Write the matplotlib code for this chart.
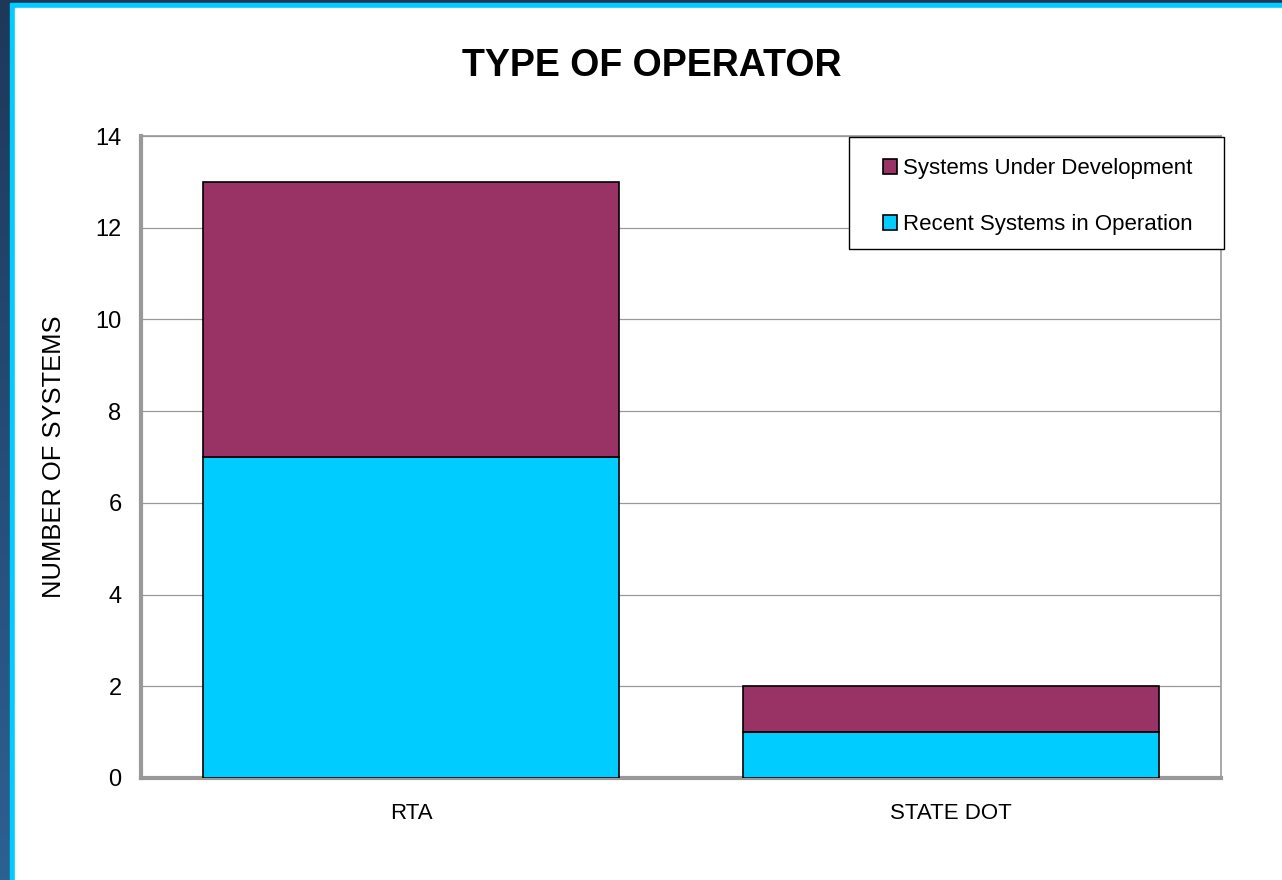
import numpy as np
import matplotlib
matplotlib.use('Agg')
import matplotlib.pyplot as plt
from matplotlib.patches import Rectangle

plt.rcParams['font.family'] = ['Liberation Sans', 'DejaVu Sans']

# Chart data
categories = ["RTA", "STATE DOT"]
recent_in_operation = [7, 1]
under_development = [6, 1]
y_ticks = [0, 2, 4, 6, 8, 10, 12, 14]

W, H = 1282, 880
fig = plt.figure(figsize=(W / 100, H / 100), dpi=100)

# Slide style background: dark blue gradient strip, cyan border, white panel
bg = fig.add_axes([0, 0, 1, 1], zorder=-10)
grad = np.linspace(0, 1, 256).reshape(-1, 1)
cmap = matplotlib.colors.LinearSegmentedColormap.from_list('bg', ['#1e3859', '#2c6193'])
bg.imshow(grad, aspect='auto', cmap=cmap, extent=[0, 1, 0, 1], origin='upper')
bg.add_patch(Rectangle((10 / W, 0), 1, 1 - 3 / H, color='#00ccff', transform=bg.transAxes))
bg.add_patch(Rectangle((15 / W, 0), 1, 1 - 8 / H, color='white', transform=bg.transAxes))
bg.set_xlim(0, 1)
bg.set_ylim(0, 1)
bg.axis('off')

ax = fig.add_axes([141 / W, 1 - 778 / H, 1080 / W, 642 / H])
ax.set_facecolor('white')

x = np.arange(len(categories))
bar_w = 0.77
b1 = ax.bar(x, recent_in_operation, bar_w, color='#00ccff', edgecolor='black',
            linewidth=1.2, label='Recent Systems in Operation', zorder=3)
b2 = ax.bar(x, under_development, bar_w, bottom=recent_in_operation, color='#993366',
            edgecolor='black', linewidth=1.2, label='Systems Under Development', zorder=3)

ax.set_xlim(-0.5, 1.5)
ax.set_ylim(0, 14)
ax.set_yticks(y_ticks)
ax.set_xticks(x)
ax.set_xticklabels(categories)
ax.tick_params(axis='both', length=0, labelsize=16)
ax.tick_params(axis='y', labelsize=17)
ax.tick_params(axis='x', pad=18)
ax.tick_params(axis='y', pad=14)

ax.yaxis.grid(True, color='#999999', linewidth=0.9, zorder=0)
ax.set_axisbelow(True)

for side in ['left', 'bottom']:
    ax.spines[side].set_color('#999999')
    ax.spines[side].set_linewidth(3)
for side in ['top', 'right']:
    ax.spines[side].set_color('#999999')
    ax.spines[side].set_linewidth(1.2)

ax.set_ylabel('NUMBER OF SYSTEMS', fontsize=18.4)
ax.yaxis.set_label_coords(-0.069, 0.5)

fig.text(652 / W, 1 - 66 / H, 'TYPE OF OPERATOR', fontsize=27, fontweight='bold',
         ha='center', va='center')

# legend box drawn by hand (wider side padding than matplotlib allows)
ax.add_patch(Rectangle((0.6556, 0.824), 0.3472, 0.1744, transform=ax.transAxes,
                       facecolor='white', edgecolor='black', linewidth=1.0,
                       clip_on=False, zorder=4))
leg = ax.legend(handles=[b2, b1], loc='upper left', bbox_to_anchor=(0.687, 0.965),
                fontsize=16, frameon=False,
                handlelength=0.65, handleheight=0.65, handletextpad=0.25,
                labelspacing=1.55, borderpad=0, borderaxespad=0)
leg.set_zorder(5)

fig.savefig('out.png', dpi=100)
